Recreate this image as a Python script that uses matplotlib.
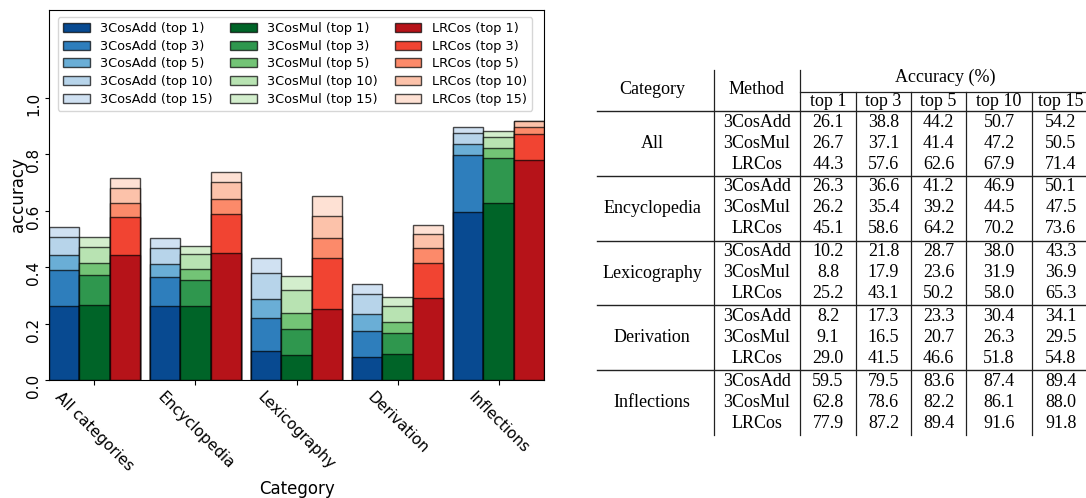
import matplotlib.pyplot as plt
import numpy as np

categories = ["All categories", "Encyclopedia", "Lexicography", "Derivation", "Inflections"]
table_categories = ["All", "Encyclopedia", "Lexicography", "Derivation", "Inflections"]
methods = ["3CosAdd", "3CosMul", "LRCos"]
topk = ["top 1", "top 3", "top 5", "top 10", "top 15"]

# accuracy (%) per category, columns = top 1, 3, 5, 10, 15
acc_3cosadd = [[26.1, 38.8, 44.2, 50.7, 54.2],
               [26.3, 36.6, 41.2, 46.9, 50.1],
               [10.2, 21.8, 28.7, 38.0, 43.3],
               [8.2, 17.3, 23.3, 30.4, 34.1],
               [59.5, 79.5, 83.6, 87.4, 89.4]]
acc_3cosmul = [[26.7, 37.1, 41.4, 47.2, 50.5],
               [26.2, 35.4, 39.2, 44.5, 47.5],
               [8.8, 17.9, 23.6, 31.9, 36.9],
               [9.1, 16.5, 20.7, 26.3, 29.5],
               [62.8, 78.6, 82.2, 86.1, 88.0]]
acc_lrcos = [[44.3, 57.6, 62.6, 67.9, 71.4],
             [45.1, 58.6, 64.2, 70.2, 73.6],
             [25.2, 43.1, 50.2, 58.0, 65.3],
             [29.0, 41.5, 46.6, 51.8, 54.8],
             [77.9, 87.2, 89.4, 91.6, 91.8]]
all_acc = [acc_3cosadd, acc_3cosmul, acc_lrcos]

cols = [plt.cm.Blues([0.9, 0.7, 0.5, 0.3, 0.2]),
        plt.cm.Greens([0.9, 0.7, 0.5, 0.3, 0.2]),
        plt.cm.Reds([0.82, 0.6, 0.4, 0.23, 0.12])]

fig = plt.figure(figsize=(10.86, 4.98), dpi=100)
ax = fig.add_axes([49 / 1086, 118 / 498, 495 / 1086, 370 / 498])

width = 0.3
x = np.arange(len(categories))
handles = {}
for m in range(len(methods)):
    data = np.array(all_acc[m]) / 100.0
    for k in reversed(range(len(topk))):
        h = ax.bar(x + (m - 1) * width, data[:, k], width, color=cols[m][k],
                   edgecolor=(0, 0, 0, 0.7), linewidth=1,
                   label=methods[m] + " (" + topk[k] + ")")
        handles[(m, k)] = h

order = [handles[(m, k)] for m in range(3) for k in range(5)]
ax.legend(handles=order, ncol=3, loc="upper left", mode="expand",
          bbox_to_anchor=(0.018, 0.0, 0.958, 0.981), borderaxespad=0,
          fontsize=9.3, labelspacing=0.36, borderpad=0.4,
          handlelength=2.05, handletextpad=0.8, columnspacing=1.5)
ax.set_xlim(-0.45, 4.45)
ax.set_ylim(0, 1.31)
ax.set_xticks(x)
ax.set_xticklabels(categories, rotation=-45, fontsize=11)
ax.set_yticks([0, 0.2, 0.4, 0.6, 0.8, 1.0])
ax.set_yticklabels(["0.0", "0.2", "0.4", "0.6", "0.8", "1.0"], rotation=90, fontsize=11)
ax.tick_params(axis="y", length=3, pad=2.5)
ax.set_xlabel("Category", fontsize=12)
ax.set_ylabel("accuracy", fontsize=12)
ax.xaxis.set_label_coords(0.5, -0.27)
ax.yaxis.set_label_coords(-0.045, 0.5)

# table on the right, drawn in pixel-like coordinates
tb = fig.add_axes([0, 0, 1, 1])
tb.set_xlim(0, 1086)
tb.set_ylim(498, 0)
tb.axis("off")
serif = "Liberation Serif"
fs = 13
lc = "#222222"

cat_x = 652
meth_x = 757
val_edges = [800, 856, 911, 966, 1032, 1090]
head_top = 70
acc_line = 92
head_line = 111
group_h = 64.8
row_h = 21.0
left_x = 597

tb.text(cat_x, 89, "Category", ha="center", va="center", fontsize=fs, family=serif)
tb.text(meth_x, 89, "Method", ha="center", va="center", fontsize=fs, family=serif)
tb.text((val_edges[0] + val_edges[-1]) / 2, 77, "Accuracy (%)", ha="center", va="center",
        fontsize=fs, family=serif)
for j, t in enumerate(topk):
    tb.text((val_edges[j] + val_edges[j + 1]) / 2, 101.5, t, ha="center", va="center",
            fontsize=fs, family=serif)

bottom = head_line + group_h * len(table_categories)
tb.plot([714, 714], [head_top, bottom], color=lc, lw=0.9)
tb.plot([val_edges[0], val_edges[0]], [head_top, bottom], color=lc, lw=0.9)
for e in val_edges[1:-1]:
    tb.plot([e, e], [acc_line, bottom], color=lc, lw=0.9)
tb.plot([val_edges[0], val_edges[-1]], [acc_line, acc_line], color=lc, lw=0.9)

for g, cname in enumerate(table_categories):
    top = head_line + g * group_h
    tb.plot([left_x, val_edges[-1]], [top, top], color=lc, lw=1.0)
    tb.text(cat_x, top + group_h / 2, cname, ha="center", va="center", fontsize=fs, family=serif)
    for m in range(3):
        yy = top + 11 + m * row_h
        tb.text(meth_x, yy, methods[m], ha="center", va="center", fontsize=fs, family=serif)
        for j in range(5):
            tb.text((val_edges[j] + val_edges[j + 1]) / 2, yy, "%.1f" % all_acc[m][g][j],
                    ha="center", va="center", fontsize=fs, family=serif)

fig.savefig("out.png", dpi=100)
